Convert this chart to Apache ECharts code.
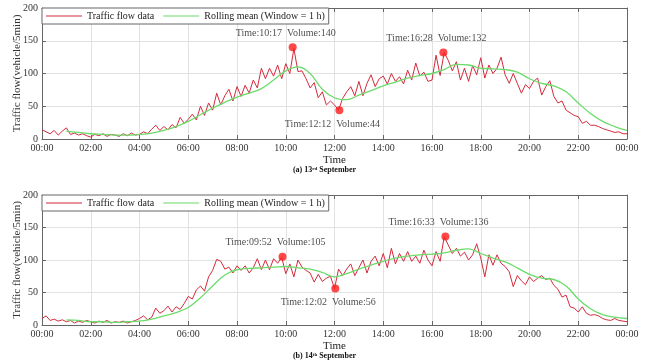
<!DOCTYPE html>
<html>
<head>
<meta charset="utf-8">
<script src="https://cdn.jsdelivr.net/npm/echarts@6/dist/echarts.min.js"></script>
<style>
  html, body { margin: 0; padding: 0; background: #fff; }
  #chart { width: 649px; height: 364px; }
</style>
</head>
<body>
<div id="chart"></div>
<script>
// Axe des temps : une étiquette toutes les 2 h
const tickLabels = ['00:00', '02:00', '04:00', '06:00', '08:00', '10:00', '12:00',
    '14:00', '16:00', '18:00', '20:00', '22:00', '00:00'];

// 13 septembre : débit relevé toutes les 10 min (00:00 -> 24:00)
const flowSep13 = [
    14, 11, 8, 13, 6, 12,
    17, 7, 9, 6, 8, 5,
    3, 7, 5, 8, 4, 7,
    6, 4, 8, 5, 9, 6,
    7, 11, 8, 15, 21, 13,
    19, 14, 22, 17, 33, 24,
    30, 38, 29, 50, 36, 55,
    44, 70, 52, 66, 76, 58,
    80, 65, 82, 70, 90, 78,
    108, 92, 108, 96, 113, 92,
    115, 100, 138, 103, 104, 92,
    78, 86, 63, 72, 52, 58,
    52, 44, 62, 72, 80, 66,
    88, 66, 85, 98, 80, 92,
    96, 84, 100, 88, 95, 84,
    105, 90, 116, 96, 102, 88,
    90, 128, 97, 132, 120, 104,
    118, 90, 108, 88, 112, 98,
    124, 93, 113, 100, 108, 125,
    98, 85, 100, 85, 70, 83,
    77, 88, 93, 67, 80, 89,
    65, 55, 58, 44, 40, 36,
    34, 24, 27, 21, 21, 19,
    16, 14, 12, 10, 11, 8,
    8
];
// 13 septembre : moyenne glissante, toutes les 30 min à partir de 01:00
const meanSep13 = [
    12, 10, 8, 7, 6, 6, 7, 9, 13, 19, 27, 37, 47, 56, 64, 70, 77, 90, 104, 110,
    100, 76, 63, 60, 67, 74, 81, 87, 93, 97, 100, 106, 114, 113, 108, 107, 106,
    102, 92, 85, 81, 72, 55, 39, 27, 19, 13
];
const peakTimesSep13 = ['10:17', '12:12', '16:28'];
const peakValuesSep13 = [140, 44, 132];

// 14 septembre
const flowSep14 = [
    10, 14, 7, 9, 6, 8,
    5, 7, 3, 6, 4, 7,
    5, 3, 6, 4, 7, 3,
    5, 4, 6, 3, 5, 7,
    10, 14, 8, 12, 26, 18,
    22, 29, 20, 28, 24, 33,
    44, 40, 54, 60, 52, 74,
    84, 101, 98, 86, 89, 80,
    91, 84, 91, 80, 88, 102,
    85, 100, 85, 102, 95, 104,
    79, 94, 74, 100, 89, 84,
    80, 66, 78, 67, 72, 75,
    56, 86, 76, 86, 94, 76,
    88, 100, 80, 98, 106, 91,
    110, 88, 118, 94, 110, 98,
    113, 98, 106, 95, 115, 100,
    91, 113, 98, 136, 123, 110,
    118, 106, 112, 100, 108, 125,
    103, 74, 108, 92, 108, 95,
    90, 82, 59, 76, 68, 62,
    74, 67, 72, 76, 70, 72,
    61, 55, 43, 46, 28, 26,
    20, 28, 18, 15, 16, 14,
    10, 8, 7, 10, 7, 6,
    5
];
const meanSep14 = [
    8, 7, 5, 5, 4, 5, 6, 9, 14, 19, 27, 42, 60, 77, 85, 87, 88, 89, 90, 88,
    86, 81, 74, 79, 86, 92, 98, 103, 106, 108, 109, 111, 115, 117, 110, 103, 97,
    88, 78, 72, 70, 60, 40, 25, 16, 12, 10
];
const peakTimesSep14 = ['09:52', '12:02', '16:33'];
const peakValuesSep14 = [105, 56, 136];

const FONT = 'Liberation Serif';
const RED = '#d42a3c';
const GREEN = '#6bdc6b';
const FRAME = '#666';

function toMinutes(s) {
    const [h, m] = s.split(':').map(Number);
    return h * 60 + m;
}

function series(vals, start, step) {
    return vals.map((v, i) => [start + i * step, v]);
}

// Axes : bas/gauche avec étiquettes, haut/droite uniquement les graduations
function buildAxes(gi) {
    const tick = { show: true, inside: true, length: 4, lineStyle: { color: FRAME } };
    const line = { show: true, onZero: false, lineStyle: { color: FRAME } };
    const x = {
        gridIndex: gi, type: 'value', min: 0, max: 1440, interval: 120,
        name: 'Time', nameLocation: 'middle', nameGap: 16, nameMoveOverlap: false,
        nameTextStyle: { fontFamily: FONT, fontSize: 11, color: '#222' },
        axisLine: line, axisTick: tick,
        axisLabel: { formatter: v => tickLabels[v / 120], margin: 4, fontSize: 10, color: '#333', fontFamily: FONT },
        splitLine: { show: true, lineStyle: { color: '#e2e2e2' } }
    };
    const xTop = {
        gridIndex: gi, type: 'value', min: 0, max: 1440, interval: 120, position: 'top',
        axisLine: line, axisTick: tick, axisLabel: { show: false }, splitLine: { show: false }
    };
    const y = {
        gridIndex: gi, type: 'value', min: 0, max: 200, interval: 50,
        name: 'Traffic flow(vehicle/5min)', nameLocation: 'middle', nameGap: 19, nameMoveOverlap: false,
        nameTextStyle: { fontFamily: FONT, fontSize: 11, color: '#333' },
        axisLine: line, axisTick: tick,
        axisLabel: { margin: 4, fontSize: 10, color: '#333', fontFamily: FONT },
        splitLine: { show: true, lineStyle: { color: '#e2e2e2' } }
    };
    const yRight = {
        gridIndex: gi, type: 'value', min: 0, max: 200, interval: 50, position: 'right',
        axisLine: line, axisTick: tick, axisLabel: { show: false }, splitLine: { show: false }
    };
    return { x: [x, xTop], y: [y, yRight] };
}

function buildSeries(gi, flow, mean, peakTimes, peakValues) {
    const xi = gi * 2, yi = gi * 2;
    // le creux (valeur la plus basse) a son étiquette en dessous
    const minVal = Math.min(...peakValues);
    return [
        {
            name: 'Traffic flow data', type: 'line', xAxisIndex: xi, yAxisIndex: yi,
            data: series(flow, 0, 10), showSymbol: false,
            lineStyle: { color: RED, width: 1 }, itemStyle: { color: RED }, z: 2
        },
        {
            name: 'Rolling mean (Window = 1 h)', type: 'line', xAxisIndex: xi, yAxisIndex: yi,
            data: series(mean, 60, 30), showSymbol: false, smooth: 0.4,
            lineStyle: { color: GREEN, width: 1.3 }, itemStyle: { color: GREEN }, z: 3
        },
        {
            name: 'peaks', type: 'scatter', xAxisIndex: xi, yAxisIndex: yi,
            symbolSize: 8, itemStyle: { color: '#ff1a1a' }, z: 5,
            data: peakTimes.map((t, i) => ({
                value: [toMinutes(t), peakValues[i]],
                label: { position: peakValues[i] === minVal ? 'bottom' : 'top' }
            })),
            label: {
                show: true, distance: 5, offset: [-7, 0],
                fontFamily: FONT, fontSize: 10, color: '#222',
                formatter: p => 'Time:' + peakTimes[p.dataIndex] + '  Volume:' + peakValues[p.dataIndex]
            }
        }
    ];
}

function buildLegend(top) {
    return {
        data: ['Traffic flow data', 'Rolling mean (Window = 1 h)'],
        left: 42, top: top, orient: 'horizontal',
        icon: 'rect', itemWidth: 36, itemHeight: 1.2, itemGap: 9,
        padding: [3, 4, 3, 4],
        borderColor: FRAME, borderWidth: 1, backgroundColor: '#fff',
        textStyle: { fontFamily: FONT, fontSize: 10, color: '#222' }
    };
}

const captionRich = {
    b: { fontFamily: FONT, fontSize: 8, fontWeight: 'bold', color: '#111' },
    s: { fontFamily: FONT, fontSize: 5, fontWeight: 'bold', color: '#111', verticalAlign: 'top', padding: [0, 0, 3, 0] }
};

const a1 = buildAxes(0);
const a2 = buildAxes(1);

const chart = echarts.init(document.getElementById('chart'));
chart.setOption({
    animation: false,
    backgroundColor: '#fff',
    grid: [
        { left: 42, top: 8, width: 585, height: 131 },
        { left: 42, top: 195, width: 585, height: 130 }
    ],
    title: [
        { text: '{b|(a) 13}{s|rd}{b| September}', left: 'center', top: 166, padding: 0, textStyle: { rich: captionRich } },
        { text: '{b|(b) 14}{s|th}{b| September}', left: 'center', top: 352, padding: 0, textStyle: { rich: captionRich } }
    ],
    legend: [buildLegend(8), buildLegend(195)],
    xAxis: [...a1.x, ...a2.x],
    yAxis: [...a1.y, ...a2.y],
    series: [
        ...buildSeries(0, flowSep13, meanSep13, peakTimesSep13, peakValuesSep13),
        ...buildSeries(1, flowSep14, meanSep14, peakTimesSep14, peakValuesSep14)
    ]
});
</script>
</body>
</html>
